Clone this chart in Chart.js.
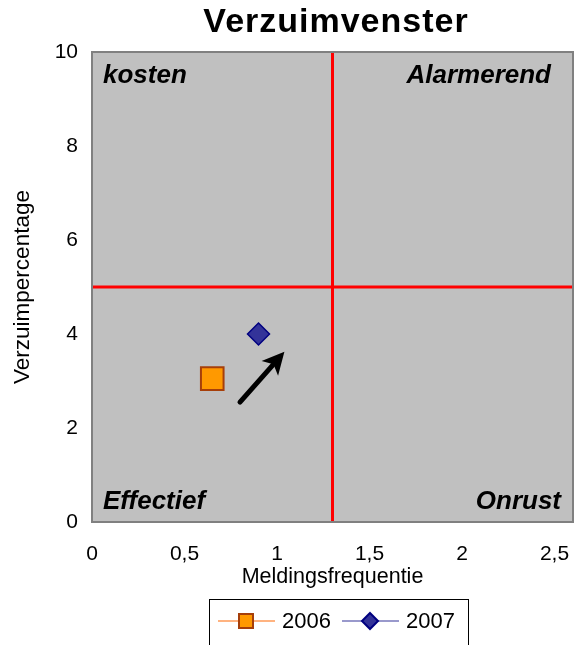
<!DOCTYPE html>
<html>
<head>
<meta charset="utf-8">
<script src="https://cdn.jsdelivr.net/npm/chart.js@4/dist/chart.umd.min.js"></script>
<style>
  html, body { margin: 0; padding: 0; background: #fff; overflow: hidden; }
  canvas { display: block; }
</style>
</head>
<body>
<canvas id="chart" width="574" height="645"></canvas>
<script>
// chart data
var years = ['2006', '2007'];
var freq = [0.65, 0.9];          // Meldingsfrequentie
var pct = [3.05, 4.0];           // Verzuimpercentage
var xTicks = [0, 0.5, 1, 1.5, 2, 2.5];
var yTicks = [0, 2, 4, 6, 8, 10];
var splitX = 1.3;                // vertical red line
var splitY = 5;                  // horizontal red line
var arrowFrom = [0.8, 2.55];
var arrowTo = [1.04, 3.62];
var quadLabels = ['kosten', 'Alarmerend', 'Effectief', 'Onrust'];

var FONT = "Arial, 'Liberation Sans', sans-serif";

//draws grey plot area, frame, title, quadrant names, arrow and legend
var decorPlugin = {
  id: 'decor',
  beforeDatasetsDraw: function(chart) {
    var ctx = chart.ctx, a = chart.chartArea;
    ctx.save();
    ctx.fillStyle = '#C0C0C0';
    ctx.fillRect(a.left, a.top, a.right - a.left, a.bottom - a.top);
    ctx.restore();
  },
  afterDatasetsDraw: function(chart) {
    var ctx = chart.ctx, a = chart.chartArea;
    var xs = chart.scales.x, ys = chart.scales.y;
    ctx.save();
    // arrow
    var x0 = xs.getPixelForValue(arrowFrom[0]), y0 = ys.getPixelForValue(arrowFrom[1]);
    var x1 = xs.getPixelForValue(arrowTo[0]), y1 = ys.getPixelForValue(arrowTo[1]);
    var ang = Math.atan2(y1 - y0, x1 - x0);
    var hl = 22, hw = 11;
    ctx.strokeStyle = '#000';
    ctx.fillStyle = '#000';
    ctx.lineWidth = 5;
    ctx.lineCap = 'round';
    ctx.beginPath();
    ctx.moveTo(x0, y0);
    ctx.lineTo(x1 - Math.cos(ang) * hl * 0.8, y1 - Math.sin(ang) * hl * 0.8);
    ctx.stroke();
    ctx.beginPath();
    ctx.moveTo(x1, y1);
    ctx.lineTo(x1 - Math.cos(ang) * hl + Math.sin(ang) * hw, y1 - Math.sin(ang) * hl - Math.cos(ang) * hw);
    ctx.lineTo(x1 - Math.cos(ang) * hl * 0.75, y1 - Math.sin(ang) * hl * 0.75);
    ctx.lineTo(x1 - Math.cos(ang) * hl - Math.sin(ang) * hw, y1 - Math.sin(ang) * hl + Math.cos(ang) * hw);
    ctx.closePath();
    ctx.fill();

    // frame
    ctx.strokeStyle = '#808080';
    ctx.lineWidth = 2;
    ctx.strokeRect(a.left, a.top, a.right - a.left, a.bottom - a.top);

    // quadrant names
    ctx.fillStyle = '#000';
    ctx.font = 'italic bold 26px ' + FONT;
    ctx.textBaseline = 'middle';
    ctx.textAlign = 'left';
    ctx.fillText(quadLabels[0], a.left + 11, a.top + 24);
    ctx.fillText(quadLabels[2], a.left + 11, a.bottom - 20);
    ctx.textAlign = 'right';
    ctx.fillText(quadLabels[1], a.right - 22, a.top + 24);
    ctx.fillText(quadLabels[3], a.right - 12, a.bottom - 20);

    // title
    ctx.font = 'bold 34px ' + FONT;
    ctx.letterSpacing = '1px';
    ctx.textAlign = 'center';
    ctx.fillText('Verzuimvenster', 336, 23);
    ctx.restore();
  },
  afterDraw: function(chart) {
    var ctx = chart.ctx;
    var ds = chart.data.datasets;
    ctx.save();
    ctx.strokeStyle = '#000';
    ctx.lineWidth = 1;
    ctx.strokeRect(209.5, 599.5, 259, 60);
    var cy = 621;
    var starts = [218, 342];
    for (var i = 0; i < years.length; i++) {
      var sx = starts[i];
      ctx.strokeStyle = i === 0 ? '#FFB380' : '#9999CC';
      ctx.lineWidth = 2;
      ctx.beginPath();
      ctx.moveTo(sx, cy);
      ctx.lineTo(sx + 57, cy);
      ctx.stroke();
      ctx.fillStyle = ds[i].backgroundColor;
      ctx.strokeStyle = ds[i].borderColor;
      ctx.lineWidth = 2;
      var mx = sx + 28;
      ctx.beginPath();
      if (i === 0) {
        ctx.rect(mx - 7, cy - 7, 14, 14);
      } else {
        ctx.moveTo(mx, cy - 8); ctx.lineTo(mx + 8, cy); ctx.lineTo(mx, cy + 8); ctx.lineTo(mx - 8, cy);
        ctx.closePath();
      }
      ctx.fill();
      ctx.stroke();
      ctx.fillStyle = '#000';
      ctx.font = '22px ' + FONT;
      ctx.textAlign = 'left';
      ctx.textBaseline = 'middle';
      ctx.fillText(years[i], sx + 64, cy + 1);
    }
    ctx.restore();
  }
};

new Chart('chart', {
  type: 'scatter',
  data: {
    datasets: [{
      label: years[0],
      data: [{x: freq[0], y: pct[0]}],
      pointStyle: 'rect',
      pointRadius: 16,
      pointHoverRadius: 16,
      backgroundColor: '#FF9900',
      borderColor: '#A63F0A',
      borderWidth: 2
    }, {
      label: years[1],
      data: [{x: freq[1], y: pct[1]}],
      pointStyle: 'rectRot',
      pointRadius: 11,
      pointHoverRadius: 11,
      backgroundColor: '#333399',
      borderColor: '#000080',
      borderWidth: 1.5
    }, {
      label: 'splitX',
      data: [{x: splitX, y: yTicks[0]}, {x: splitX, y: yTicks[yTicks.length - 1]}],
      showLine: true,
      borderColor: '#FF0000',
      borderWidth: 3,
      pointRadius: 0
    }, {
      label: 'splitY',
      data: [{x: 0, y: splitY}, {x: 2.6, y: splitY}],
      showLine: true,
      borderColor: '#FF0000',
      borderWidth: 3,
      pointRadius: 0
    }]
  },
  options: {
    responsive: false,
    animation: false,
    layout: {autoPadding: false, padding: {left: 0, right: 1, top: 52, bottom: 0}},
    plugins: {
      legend: {display: false},
      title: {display: false},
      tooltip: {enabled: false}
    },
    scales: {
      x: {
        type: 'linear',
        min: 0,
        max: 2.6,
        afterBuildTicks: function(s) { s.ticks = xTicks.map(function(v) { return {value: v}; }); },
        afterFit: function(s) {
          s.height = 123;
          s.paddingLeft = 0;
          s.paddingRight = 0;
        },
        grid: {display: false, drawTicks: false},
        border: {display: false},
        ticks: {
          padding: 20,
          color: '#000',
          font: {family: FONT, size: 21},
          maxRotation: 0,
          callback: function(v) { return String(v).replace('.', ','); }
        },
        title: {
          display: true,
          text: 'Meldingsfrequentie',
          color: '#000',
          font: {family: FONT, size: 21.5},
          padding: {top: 0, bottom: 55}
        }
      },
      y: {
        type: 'linear',
        min: 0,
        max: 10,
        afterBuildTicks: function(s) { s.ticks = yTicks.map(function(v) { return {value: v}; }); },
        afterFit: function(s) { s.width = 92; },
        grid: {display: false, drawTicks: false},
        border: {display: false},
        ticks: {
          padding: 14,
          color: '#000',
          font: {family: FONT, size: 21}
        },
        title: {
          display: true,
          text: 'Verzuimpercentage',
          color: '#000',
          font: {family: FONT, size: 22.5},
          padding: {top: 9, bottom: 0}
        }
      }
    }
  },
  plugins: [decorPlugin]
});
</script>
</body>
</html>
